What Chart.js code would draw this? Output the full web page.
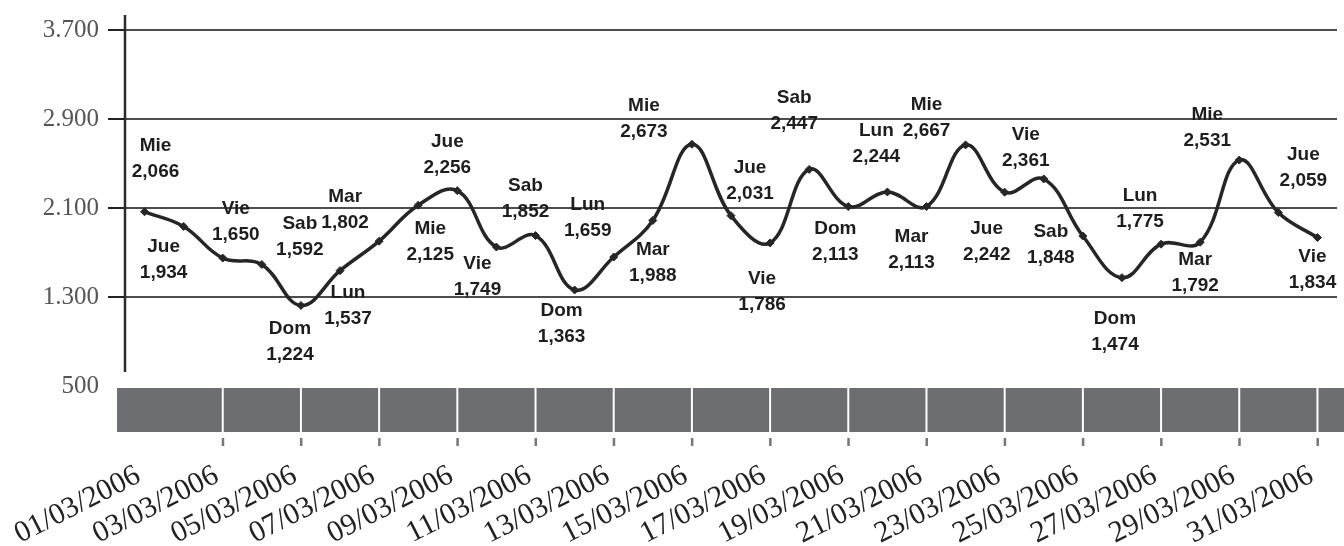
<!DOCTYPE html>
<html>
<head>
<meta charset="utf-8">
<script src="https://cdn.jsdelivr.net/npm/chart.js@4.4.1/dist/chart.umd.min.js"></script>
<style>
html, body { margin: 0; padding: 0; background: #fff; }
#wrap { width: 1344px; height: 546px; position: relative; }
</style>
</head>
<body>
<div id="wrap"><canvas id="visitas"></canvas></div>
<script>
const fechas = [
    '01/03/2006', '02/03/2006', '03/03/2006', '04/03/2006', '05/03/2006', '06/03/2006', '07/03/2006',
    '08/03/2006', '09/03/2006', '10/03/2006', '11/03/2006', '12/03/2006', '13/03/2006', '14/03/2006',
    '15/03/2006', '16/03/2006', '17/03/2006', '18/03/2006', '19/03/2006', '20/03/2006', '21/03/2006',
    '22/03/2006', '23/03/2006', '24/03/2006', '25/03/2006', '26/03/2006', '27/03/2006', '28/03/2006',
    '29/03/2006', '30/03/2006', '31/03/2006'
];
const dias = [
    'Mie', 'Jue', 'Vie', 'Sab', 'Dom', 'Lun', 'Mar',
    'Mie', 'Jue', 'Vie', 'Sab', 'Dom', 'Lun', 'Mar',
    'Mie', 'Jue', 'Vie', 'Sab', 'Dom', 'Lun', 'Mar',
    'Mie', 'Jue', 'Vie', 'Sab', 'Dom', 'Lun', 'Mar',
    'Mie', 'Jue', 'Vie'
];
const visitas = [
    2066, 1934, 1650, 1592, 1224, 1537, 1802,
    2125, 2256, 1749, 1852, 1363, 1659, 1988,
    2673, 2031, 1786, 2447, 2113, 2244, 2113,
    2667, 2242, 2361, 1848, 1474, 1775, 1792,
    2531, 2059, 1834
];
const yTicks = [500, 1300, 2100, 2900, 3700];

// desplazamiento de cada etiqueta respecto a su punto (px)
const etiquetaOffsets = [
    [11, -66], [-20, 20], [13, -49], [38, -41], [-11, 23], [8, 22], [-34, -44],
    [12, 24], [-10, -49], [-19, 17], [-10, -50], [-13, 21], [-26, -52], [0, 29],
    [-48, -38], [19, -48], [-8, 36], [-15, -72], [-13, 22], [-11, -61], [-15, 30],
    [-39, -40], [-18, 37], [-18, -44], [-32, -4], [-7, 41], [-21, -48], [-5, 18],
    [-32, -45], [25, -58], [-5, 19]
];

function formatMiles(v) {
    return String(v).replace(/\B(?=(\d{3})+(?!\d))/g, '.');
}

function formatValor(v) {
    return String(v).replace(/\B(?=(\d{3})+(?!\d))/g, ',');
}

const bandaPlugin = {
    id: 'banda',
    beforeDatasetsDraw(chart) {
        const ctx = chart.ctx;
        const area = chart.chartArea;
        const x = chart.scales.x;
        const y = chart.scales.y;
        const top = y.getPixelForValue(yTicks[0]) + 2;

        ctx.save();
        // eje vertical
        ctx.strokeStyle = '#2b2b2b';
        ctx.lineWidth = 2.5;
        ctx.beginPath();
        ctx.moveTo(area.left, area.top - 15);
        ctx.lineTo(area.left, area.bottom - 14);
        ctx.stroke();

        // banda gris inferior
        ctx.fillStyle = '#6d6e71';
        ctx.fillRect(area.left - 8, top, chart.width - area.left + 8, 44);
        for (let i = 2; i < fechas.length; i += 2) {
            const px = x.getPixelForValue(i);
            ctx.fillStyle = '#ffffff';
            ctx.fillRect(px - 1, top, 2, 44);
            ctx.fillStyle = '#777777';
            ctx.fillRect(px - 1, top + 50, 2.5, 8);
        }
        ctx.restore();
    }
};

const etiquetasPlugin = {
    id: 'etiquetas',
    afterDatasetsDraw(chart) {
        const ctx = chart.ctx;
        const meta = chart.getDatasetMeta(0);
        ctx.save();
        ctx.font = 'bold 19px "Liberation Sans", Arial, sans-serif';
        ctx.fillStyle = '#1e1e1e';
        ctx.textAlign = 'center';
        ctx.textBaseline = 'middle';
        meta.data.forEach((pt, i) => {
            const [dx, dy] = etiquetaOffsets[i];
            ctx.fillText(dias[i], pt.x + dx, pt.y + dy);
            ctx.fillText(formatValor(visitas[i]), pt.x + dx, pt.y + dy + 26);
        });
        ctx.restore();
    }
};

document.addEventListener('DOMContentLoaded', function() {
    const ctx = document.getElementById('visitas').getContext('2d');
    new Chart(ctx, {
        type: 'line',
        data: {
            labels: fechas,
            datasets: [{
                data: visitas,
                borderColor: '#262626',
                borderWidth: 3.5,
                tension: 0.4,
                pointStyle: 'rectRot',
                pointRadius: 4,
                pointBackgroundColor: '#262626',
                pointBorderColor: '#262626',
                pointBorderWidth: 1
            }]
        },
        options: {
            responsive: true,
            maintainAspectRatio: false,
            animation: false,
            layout: { padding: { top: 30, right: 7, left: 0, bottom: 0 } },
            plugins: {
                legend: { display: false },
                tooltip: { enabled: false }
            },
            scales: {
                x: {
                    type: 'category',
                    offset: true,
                    afterFit: (scale) => {
                        scale.height = 160;
                        scale.paddingLeft = 0;
                        scale.paddingRight = 0;
                    },
                    grid: { display: false, drawTicks: false },
                    border: { display: false },
                    ticks: {
                        autoSkip: false,
                        minRotation: 27,
                        maxRotation: 27,
                        padding: 72,
                        labelOffset: -6,
                        color: '#222',
                        font: { family: '"Liberation Serif", serif', size: 30 },
                        callback: function(val, index) {
                            return index % 2 === 0 ? fechas[index] : '';
                        }
                    }
                },
                y: {
                    min: 500,
                    max: 3700,
                    afterFit: (scale) => { scale.width = 125; },
                    afterBuildTicks: (scale) => { scale.ticks = yTicks.map(v => ({ value: v })); },
                    border: { display: false },
                    grid: {
                        color: (c) => c.tick && c.tick.value === 500 ? 'rgba(0,0,0,0)' : '#4d4d4d',
                        tickColor: (c) => c.tick && c.tick.value === 500 ? 'rgba(0,0,0,0)' : '#222',
                        lineWidth: 2,
                        tickLength: 17
                    },
                    ticks: {
                        padding: 9,
                        color: '#555',
                        font: { family: '"Liberation Serif", serif', size: 25 },
                        callback: (v) => formatMiles(v)
                    }
                }
            }
        },
        plugins: [bandaPlugin, etiquetasPlugin]
    });
});
</script>
</body>
</html>
